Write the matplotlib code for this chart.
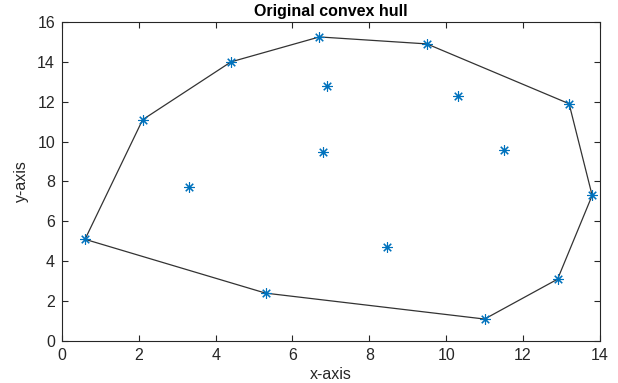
import matplotlib.pyplot as plt
import numpy as np

# point cloud
x_pts = [0.6, 2.1, 3.3, 4.4, 5.3, 6.7, 6.8, 6.9, 8.45, 9.5, 10.3, 11.0, 11.5, 12.9, 13.2, 13.8]
y_pts = [5.1, 11.1, 7.7, 14.0, 2.4, 15.25, 9.5, 12.8, 4.7, 14.9, 12.3, 1.1, 9.6, 3.1, 11.9, 7.3]


def convex_hull(xs, ys):
    # monotone chain, returns closed loop of hull vertices
    pts = sorted(zip(xs, ys))

    def cross(o, a, b):
        return (a[0] - o[0]) * (b[1] - o[1]) - (a[1] - o[1]) * (b[0] - o[0])

    lower = []
    for p in pts:
        while len(lower) >= 2 and cross(lower[-2], lower[-1], p) <= 0:
            lower.pop()
        lower.append(p)
    upper = []
    for p in reversed(pts):
        while len(upper) >= 2 and cross(upper[-2], upper[-1], p) <= 0:
            upper.pop()
        upper.append(p)
    hull = lower[:-1] + upper[:-1]
    hull.append(hull[0])
    return np.array(hull)


plt.rcParams['font.family'] = ['Liberation Sans', 'DejaVu Sans']
axis_gray = '#262626'

fig = plt.figure(figsize=(6.18, 3.83), dpi=100)
ax = fig.add_axes([0.1003, 0.1097, 0.8703, 0.8329])

hull = convex_hull(x_pts, y_pts)
ax.plot(hull[:, 0], hull[:, 1], color='#333333', linewidth=0.9, zorder=2)
ax.plot(x_pts, y_pts, linestyle='none', marker=(8, 2, 0), markersize=7.5,
        markeredgewidth=0.8, color='#0072BD', zorder=3)

ax.set_xlim(0, 14)
ax.set_ylim(0, 16)
ax.set_xticks(np.arange(0, 15, 2))
ax.set_yticks(np.arange(0, 17, 2))
ax.tick_params(direction='in', top=True, right=True, length=4, width=0.8,
               colors=axis_gray, labelsize=11.5, pad=5)
for s in ax.spines.values():
    s.set_color(axis_gray)
    s.set_linewidth(0.8)

ax.set_title('Original convex hull', fontsize=11.5, fontweight='bold', pad=4)
ax.set_xlabel('x-axis', fontsize=11.5, color=axis_gray, labelpad=3)
ax.set_ylabel('y-axis', fontsize=11.5, color=axis_gray, labelpad=6)

fig.savefig('out.png', dpi=100)
